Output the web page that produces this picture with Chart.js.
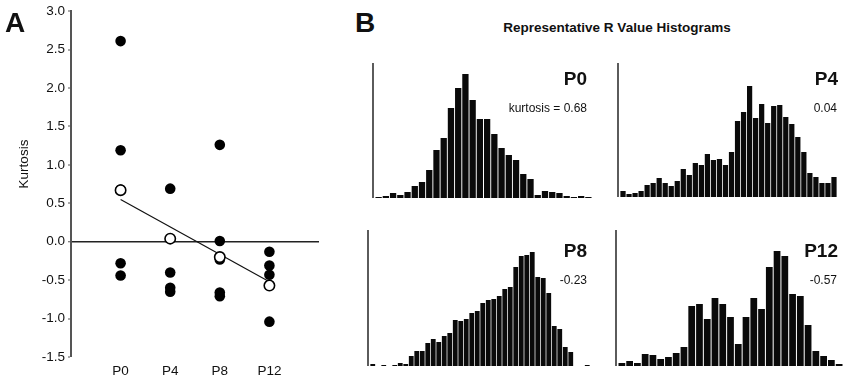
<!DOCTYPE html>
<html>
<head>
<meta charset="utf-8">
<script src="https://cdn.jsdelivr.net/npm/chart.js@4.4.1/dist/chart.umd.min.js"></script>
<style>
  html, body { margin: 0; padding: 0; background: #fff; }
  #wrap { position: relative; width: 850px; height: 381px; overflow: hidden; background: #fff;
          font-family: "Liberation Sans", Arial, sans-serif; color: #111; }
  canvas { position: absolute; }
  .t { position: absolute; white-space: nowrap; line-height: 1; color: #111; font-weight: normal; }
  .big { font-weight: bold; font-size: 28px; }
  .hl { font-weight: bold; font-size: 19px; text-align: right; }
  .kv { font-size: 12px; text-align: right; }
</style>
</head>
<body>
<div id="wrap">
  <canvas id="cA" width="330" height="381" style="left:0;top:0"></canvas>
  <canvas id="cP0" width="220" height="135" style="left:372px;top:63px"></canvas>
  <canvas id="cP4" width="220" height="134" style="left:617px;top:63px"></canvas>
  <canvas id="cP8" width="223" height="136" style="left:367px;top:230px"></canvas>
  <canvas id="cP12" width="228" height="136" style="left:615px;top:230px"></canvas>

  <div class="t big" style="left:5px;top:9px">A</div>
  <div class="t big" style="left:355px;top:9px">B</div>
  <div class="t" style="left:617px;top:21px;font-size:13.5px;font-weight:bold;transform:translateX(-50%)">Representative R Value Histograms</div>
  <div class="t" style="left:24px;top:164px;font-size:13.5px;font-weight:normal;color:#111;transform:translate(-50%,-50%) rotate(-90deg)">Kurtosis</div>

  <div class="t hl" style="right:263px;top:69px">P0</div>
  <div class="t kv" style="right:263px;top:101.5px">kurtosis = 0.68</div>
  <div class="t hl" style="right:12px;top:69px">P4</div>
  <div class="t kv" style="right:13px;top:101.5px">0.04</div>
  <div class="t hl" style="right:263px;top:241px">P8</div>
  <div class="t kv" style="right:263px;top:273.5px">-0.23</div>
  <div class="t hl" style="right:12px;top:241px">P12</div>
  <div class="t kv" style="right:13px;top:273.5px">-0.57</div>
</div>
<script>
// ---------- Panel A data ----------
const categories = ['P0', 'P4', 'P8', 'P12'];
const animalsP0 = [2.61, 1.19, 0.68, -0.28, -0.44];
const animalsP4 = [0.69, -0.40, -0.60, -0.65];
const animalsP8 = [1.26, 0.01, -0.23, -0.66, -0.71];
const animalsP12 = [-0.13, -0.31, -0.43, -1.04];
const representative = [0.67, 0.04, -0.20, -0.57];
const fitLine = [0.55, -0.52]; // fitted values at P0 and P12
const yTicks = [-1.5, -1.0, -0.5, 0.0, 0.5, 1.0, 1.5, 2.0, 2.5, 3.0];

// ---------- Panel B data (bin counts) ----------
const histP0 = [1, 2, 5, 3, 6, 12, 16, 28, 48, 60, 90, 110, 124, 98, 79, 79, 64, 50, 43, 38, 24, 19, 3, 7, 6, 5, 2, 1, 2, 1];
const histP4 = [6, 3, 4, 6, 12, 14, 19, 14, 11, 16, 28, 22, 34, 32, 43, 37, 38, 32, 45, 76, 85, 111, 79, 93, 74, 91, 92, 80, 73, 60, 45, 24, 20, 14, 14, 20];
const histP8 = [2, 0, 1, 0, 1, 3, 2, 10, 15, 15, 23, 27, 24, 30, 33, 46, 45, 47, 53, 55, 63, 66, 67, 70, 77, 79, 99, 110, 111, 114, 89, 88, 73, 40, 37, 19, 14, 0, 0, 1];
const histP12 = [3, 5, 3, 12, 11, 7, 9, 13, 19, 60, 62, 47, 68, 62, 49, 22, 49, 68, 57, 99, 115, 110, 72, 70, 41, 15, 10, 6, 2];
const histMax = { P0: 135, P4: 134, P8: 136, P12: 136 };

const FONT = '"Liberation Sans", Arial, sans-serif';
Chart.defaults.font.family = FONT;
Chart.defaults.color = '#111';
Chart.defaults.animation = false;

function pts(idx, arr) { return arr.map(v => ({ x: idx + 1, y: v })); }

new Chart(document.getElementById('cA'), {
  type: 'scatter',
  data: {
    datasets: [
      { label: 'representative', data: representative.map((v, i) => ({ x: i + 1, y: v })),
        pointRadius: 5.2, pointBackgroundColor: '#fff', pointBorderColor: '#000', pointBorderWidth: 1.6, order: 0 },
      { label: 'fit', type: 'line', data: [{ x: 1, y: fitLine[0] }, { x: 4, y: fitLine[1] }],
        borderColor: '#111', borderWidth: 1.2, pointRadius: 0, fill: false, order: 1 },
      { label: 'animals', data: [].concat(pts(0, animalsP0), pts(1, animalsP4), pts(2, animalsP8), pts(3, animalsP12)),
        pointRadius: 5.3, pointBackgroundColor: '#000', pointBorderWidth: 0, order: 2 }
    ]
  },
  options: {
    responsive: false,
    devicePixelRatio: 1,
    layout: { padding: { top: 11, right: 11, left: 0, bottom: 0 } },
    plugins: { legend: { display: false }, tooltip: { enabled: false } },
    scales: {
      x: {
        type: 'linear', min: 0, max: 5,
        afterBuildTicks: s => { s.ticks = categories.map((c, i) => ({ value: i + 1 })); },
        afterFit: s => { s.height = 24; },
        ticks: { callback: v => categories[v - 1], font: { size: 13.5 }, color: '#111', padding: 6, autoSkip: false, maxRotation: 0 },
        grid: { display: false, drawTicks: false },
        border: { display: false }
      },
      y: {
        min: -1.5, max: 3,
        afterBuildTicks: s => { s.ticks = yTicks.map(v => ({ value: v })); },
        afterFit: s => { s.width = 71; },
        ticks: { callback: v => v.toFixed(1), font: { size: 13.5 }, color: '#111', padding: 3 },
        grid: {
          color: c => (c.tick && c.tick.value === 0 ? '#222' : 'rgba(0,0,0,0)'),
          lineWidth: c => (c.tick && c.tick.value === 0 ? 1.5 : 0),
          tickColor: '#555', tickLength: 3, tickWidth: 1
        },
        border: { display: true, color: '#555', width: 2 }
      }
    }
  }
});

const axisLine = {
  id: 'axisLine',
  afterDraw(chart) {
    const { ctx, chartArea } = chart;
    ctx.save();
    ctx.strokeStyle = '#333';
    ctx.lineWidth = 1.6;
    ctx.beginPath();
    ctx.moveTo(1, chartArea.top);
    ctx.lineTo(1, chartArea.bottom);
    ctx.stroke();
    ctx.restore();
  }
};

function hist(id, counts, max) {
  new Chart(document.getElementById(id), {
    type: 'bar',
    data: {
      labels: counts.map((_, i) => String(i + 1)),
      datasets: [{ data: counts, backgroundColor: '#0a0a0a', borderWidth: 0,
                   barPercentage: 0.87, categoryPercentage: 1 }]
    },
    options: {
      responsive: false,
      devicePixelRatio: 1,
      layout: { padding: { left: 3, right: 0, top: 0, bottom: 0 } },
      plugins: { legend: { display: false }, tooltip: { enabled: false } },
      scales: {
        x: { display: false },
        y: { display: false, min: 0, max: max }
      }
    },
    plugins: [axisLine]
  });
}
hist('cP0', histP0, histMax.P0);
hist('cP4', histP4, histMax.P4);
hist('cP8', histP8, histMax.P8);
hist('cP12', histP12, histMax.P12);
</script>
</body>
</html>
